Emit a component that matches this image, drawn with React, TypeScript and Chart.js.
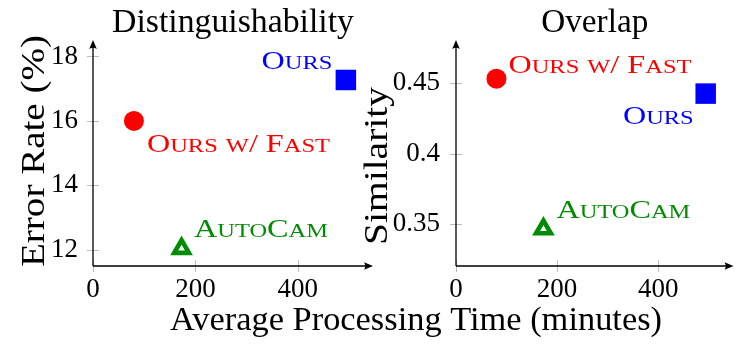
import React, { useEffect, useRef } from "react";
import { Chart, registerables } from "chart.js";
Chart.register(...registerables);

// ---------- data ----------
const methods = ["Ours", "Ours w/ Fast", "AutoCam"];
const timeMinutes = [494, 80, 173];
const errorRate = [17.27, 16.0, 12.04];
const similarity = [0.4427, 0.4533, 0.3467];
const timeTicks = [0, 200, 400];
const timeTickLabels = ["0", "200", "400"];
const errorTicks = [12, 14, 16, 18];
const errorTickLabels = ["12", "14", "16", "18"];
const similarityTicks = [0.35, 0.4, 0.45];
const similarityTickLabels = ["0.35", "0.4", "0.45"];
const panelTitles = ["Distinguishability", "Overlap"];
const yAxisTitles = ["Error Rate (%)", "Similarity"];
const xAxisTitle = "Average Processing Time (minutes)";

// ---------- styles ----------
const SERIF = '"Liberation Serif", "Times New Roman", serif';
const COLORS = ["#0000ff", "#ff0000", "#008c00"];
const MARKERS = [
  { pointStyle: "rect", radius: 14.5, borderWidth: 0, bg: COLORS[0], border: COLORS[0] },
  { pointStyle: "circle", radius: 10, borderWidth: 0, bg: COLORS[1], border: COLORS[1] },
  { pointStyle: "triangle", radius: 8.5, borderWidth: 4.6, bg: "#ffffff", border: COLORS[2] },
];

type Panel = {
  left: number;
  width: number;
  padding: { left: number; top: number; right: number; bottom: number };
  yWidth: number;
  xHeight: number;
  xMax: number;
  yMin: number;
  yMax: number;
  yValues: number[];
  yTicks: number[];
  yTickLabels: string[];
  yTickPad: number;
  title: string;
  titleWidth: number;
  yTitle: string;
  yTitlePos: { x: number; y: number; w: number };
  labelOffsets: { dx: number; dy: number; align: CanvasTextAlign }[];
  drawXTitle: boolean;
};

const PANELS: Panel[] = [
  {
    left: 0,
    width: 748,
    padding: { left: 0, top: 40, right: 375, bottom: 0 },
    yWidth: 93,
    xHeight: 82,
    xMax: 547,
    yMin: 11.5,
    yMax: 18.51,
    yValues: errorRate,
    yTicks: errorTicks,
    yTickLabels: errorTickLabels,
    yTickPad: 15,
    title: panelTitles[0],
    titleWidth: 242,
    yTitle: yAxisTitles[0],
    yTitlePos: { x: 44, y: 151, w: 232 },
    labelOffsets: [
      { dx: -13.5, dy: -11, align: "right" },
      { dx: 13, dy: 31, align: "left" },
      { dx: 12.5, dy: -11.5, align: "left" },
    ],
    drawXTitle: true,
  },
  {
    left: 354,
    width: 394,
    padding: { left: 0, top: 40, right: 10, bottom: 0 },
    yWidth: 102,
    xHeight: 82,
    xMax: 549,
    yMin: 0.3205,
    yMax: 0.4807,
    yValues: similarity,
    yTicks: similarityTicks,
    yTickLabels: similarityTickLabels,
    yTickPad: 16,
    title: panelTitles[1],
    titleWidth: 107,
    yTitle: yAxisTitles[1],
    yTitlePos: { x: 387 - 354, y: 166, w: 158 },
    labelOffsets: [
      { dx: -12, dy: 30, align: "right" },
      { dx: 12, dy: -6, align: "left" },
      { dx: 13, dy: -11.5, align: "left" },
    ],
    drawXTitle: false,
  },
];

function fitText(
  ctx: CanvasRenderingContext2D,
  text: string,
  x: number,
  y: number,
  size: number,
  width: number,
  rotate = false
) {
  ctx.save();
  ctx.font = `${size}px ${SERIF}`;
  const w = ctx.measureText(text).width;
  ctx.translate(x, y);
  if (rotate) ctx.rotate(-Math.PI / 2);
  ctx.scale(width / w, 1);
  ctx.textAlign = "center";
  ctx.textBaseline = "alphabetic";
  ctx.fillStyle = "#000";
  ctx.fillText(text, 0, 0);
  ctx.restore();
}

const CAP_SIZE = 25;
const SMALL_SIZE = 19;

function scRuns(text: string) {
  const runs: { t: string; small: boolean }[] = [];
  for (const ch of text) {
    const small = ch !== ch.toUpperCase();
    const last = runs[runs.length - 1];
    if (last && last.small === small) last.t += ch.toUpperCase();
    else runs.push({ t: ch.toUpperCase(), small });
  }
  return runs;
}

function scWidth(ctx: CanvasRenderingContext2D, text: string) {
  let w = 0;
  for (const r of scRuns(text)) {
    ctx.font = `${r.small ? SMALL_SIZE : CAP_SIZE}px ${SERIF}`;
    w += ctx.measureText(r.t).width;
  }
  return w;
}

function drawSmallCaps(
  ctx: CanvasRenderingContext2D,
  text: string,
  x: number,
  y: number,
  align: CanvasTextAlign,
  color: string,
  sx: number
) {
  const total = scWidth(ctx, text) * sx;
  const start = align === "right" ? x - total : x;
  ctx.save();
  ctx.translate(start, y);
  ctx.scale(sx, 1);
  ctx.fillStyle = color;
  ctx.textAlign = "left";
  ctx.textBaseline = "alphabetic";
  let cx = 0;
  for (const r of scRuns(text)) {
    ctx.font = `${r.small ? SMALL_SIZE : CAP_SIZE}px ${SERIF}`;
    ctx.fillText(r.t, cx, 0);
    cx += ctx.measureText(r.t).width;
  }
  ctx.restore();
}

function arrowHead(ctx: CanvasRenderingContext2D, x: number, y: number, dir: "right" | "up") {
  ctx.save();
  ctx.translate(x, y);
  if (dir === "up") ctx.rotate(-Math.PI / 2);
  ctx.beginPath();
  ctx.moveTo(0, 0);
  ctx.lineTo(-9, -3.8);
  ctx.quadraticCurveTo(-6.5, 0, -9, 3.8);
  ctx.closePath();
  ctx.fillStyle = "#000";
  ctx.fill();
  ctx.restore();
}

function makeDecor(p: Panel, idx: number) {
  return {
    id: "decor" + idx,
    beforeDatasetsDraw(chart: any) {
      const ctx: CanvasRenderingContext2D = chart.ctx;
      const { left, right, top, bottom } = chart.chartArea;
      const xs = chart.scales.x;
      const ys = chart.scales.y;
      ctx.save();
      ctx.strokeStyle = "#bdbdbd";
      ctx.lineWidth = 1;
      for (const v of timeTicks) {
        const px = Math.round(xs.getPixelForValue(v)) + 0.5;
        ctx.beginPath();
        ctx.moveTo(px, bottom - 6);
        ctx.lineTo(px, bottom + 6);
        ctx.stroke();
      }
      for (const v of p.yTicks) {
        const py = Math.round(ys.getPixelForValue(v)) + 0.5;
        ctx.beginPath();
        ctx.moveTo(left - 6, py);
        ctx.lineTo(left + 6, py);
        ctx.stroke();
      }
      ctx.strokeStyle = "#000";
      ctx.lineWidth = 1.3;
      ctx.beginPath();
      ctx.moveTo(left, bottom);
      ctx.lineTo(right - 4, bottom);
      ctx.moveTo(left, bottom);
      ctx.lineTo(left, top + 4);
      ctx.stroke();
      arrowHead(ctx, right, bottom, "right");
      arrowHead(ctx, left, top, "up");
      ctx.restore();
    },
    afterDatasetsDraw(chart: any) {
      const ctx: CanvasRenderingContext2D = chart.ctx;
      const { left, right } = chart.chartArea;
      const sx = 183 / scWidth(ctx, methods[1]);
      methods.forEach((m, i) => {
        const pt = chart.getDatasetMeta(i).data[0];
        const o = p.labelOffsets[i];
        drawSmallCaps(ctx, m, pt.x + o.dx, pt.y + o.dy, o.align, COLORS[i], sx);
      });
      fitText(ctx, p.title, (left + right) / 2, 32, 33, p.titleWidth);
      fitText(ctx, p.yTitle, p.yTitlePos.x, p.yTitlePos.y, 33, p.yTitlePos.w, true);
      if (p.drawXTitle) fitText(ctx, xAxisTitle, 416, 330, 33, 492);
    },
  };
}

function Panel({ p, idx }: { p: Panel; idx: number }) {
  const ref = useRef<HTMLCanvasElement | null>(null);
  useEffect(() => {
    if (!ref.current) return;
    const tickFont = { family: SERIF, size: 27 };
    const chart = new Chart(ref.current, {
      type: "scatter",
      data: {
        datasets: methods.map((m, i) => ({
          label: m,
          data: [{ x: timeMinutes[i], y: p.yValues[i] }],
          pointStyle: MARKERS[i].pointStyle as any,
          pointRadius: MARKERS[i].radius,
          pointBorderWidth: MARKERS[i].borderWidth,
          pointBackgroundColor: MARKERS[i].bg,
          pointBorderColor: MARKERS[i].border,
          showLine: false,
          clip: false as any,
        })),
      },
      options: {
        responsive: false,
        animation: false,
        events: [],
        layout: { padding: p.padding },
        plugins: {
          legend: { display: false },
          tooltip: { enabled: false },
          title: { display: false },
        },
        scales: {
          x: {
            type: "linear",
            min: 0,
            max: p.xMax,
            grid: { display: false, drawTicks: false },
            border: { display: false },
            afterFit: (s: any) => {
              s.height = p.xHeight;
            },
            afterBuildTicks: (s: any) => {
              s.ticks = timeTicks.map((v) => ({ value: v }));
            },
            ticks: {
              font: tickFont,
              color: "#000",
              padding: 8,
              maxRotation: 0,
              autoSkip: false,
              callback: (_v: any, i: number) => timeTickLabels[i],
            },
          },
          y: {
            type: "linear",
            min: p.yMin,
            max: p.yMax,
            grid: { display: false, drawTicks: false },
            border: { display: false },
            afterFit: (s: any) => {
              s.width = p.yWidth;
            },
            afterBuildTicks: (s: any) => {
              s.ticks = p.yTicks.map((v) => ({ value: v }));
            },
            ticks: {
              font: tickFont,
              color: "#000",
              padding: p.yTickPad,
              autoSkip: false,
              callback: (_v: any, i: number) => p.yTickLabels[i],
            },
          },
        },
      },
      plugins: [makeDecor(p, idx)],
    });
    return () => chart.destroy();
  }, []);
  return (
    <canvas
      ref={ref}
      width={p.width}
      height={348}
      style={{ position: "absolute", left: p.left, top: 0, width: p.width, height: 348 }}
    />
  );
}

export default function App() {
  return (
    <div style={{ position: "absolute", left: 0, top: 0, width: 748, height: 348, background: "#fff" }}>
      {PANELS.map((p, i) => (
        <Panel key={i} p={p} idx={i} />
      ))}
    </div>
  );
}
